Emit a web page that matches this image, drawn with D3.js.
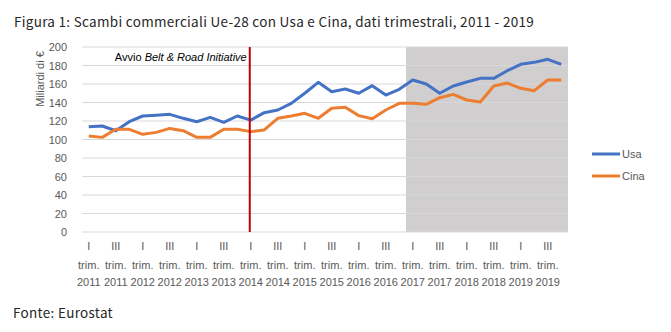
<!DOCTYPE html>
<html><head><meta charset="utf-8">
<script src="https://cdn.jsdelivr.net/npm/d3@7"></script>
<style>body{margin:0;background:#fff}svg{display:block}</style>
</head><body>
<svg id="c" width="671" height="332"></svg>
<script>
const quarters = ["I","II","III","IV"];
const years = [2011,2012,2013,2014,2015,2016,2017,2018,2019];
const categories = [];
years.forEach(y => quarters.forEach(q => categories.push(q + " trim. " + y)));
const usa = [113.8,114.6,109.5,119.2,125.4,126.2,127.2,122.9,119.2,124,118.6,125.4,
             121,129,131.9,139,150,161.8,151.7,154.6,150,158.2,148,154.3,
             164.3,160,150,157.8,162.2,166.1,166.1,174.4,181.3,183.4,186.7,181.3];
const cina = [103.8,102.3,111,111,105.6,107.7,112,109.5,102.3,102.3,111,111,
              108.5,110.3,122.9,125.4,128.3,122.9,133.7,134.8,125.8,122.5,131.9,139.1,
              139.1,138,145.2,148.8,142.7,140.5,157.8,161,155.3,152.8,164.3,164.3];
const yTicks = [0,20,40,60,80,100,120,140,160,180,200];
const seriesNames = ["Usa","Cina"];
const colors = ["#4472C4","#ED7D31"];
const eventCategory = "I trim. 2014";
const shadeFrom = "I trim. 2017";

(function(){
const svg = d3.select("#c");
const pL = 82, pR = 568, pT = 47, pB = 232;
const x = d3.scaleBand().domain(categories).range([pL, pR]);
const y = d3.scaleLinear().domain([0, 200]).range([pB, pT]);
const axisFont = "'Liberation Sans', Arial, sans-serif";
const txtCol = "#595959";

svg.append("rect").attr("x", x(shadeFrom)).attr("y", pT)
  .attr("width", pR - x(shadeFrom)).attr("height", pB - pT).attr("fill", "#D0CECE");

svg.append("g").selectAll("line").data(yTicks).join("line")
  .attr("x1", pL).attr("x2", pR).attr("y1", d => y(d)).attr("y2", d => y(d))
  .attr("stroke", "#D9D9D9").attr("stroke-width", 1);

svg.append("g").selectAll("text").data(yTicks).join("text")
  .attr("x", 67).attr("y", d => y(d) + 4).attr("text-anchor", "end")
  .attr("font-family", axisFont).attr("font-size", 11).attr("fill", txtCol).text(d => d);

svg.append("text").attr("transform", "translate(44,79) rotate(-90)")
  .attr("text-anchor", "middle").attr("font-family", axisFont).attr("font-size", 11)
  .attr("fill", txtCol).text("Miliardi di €");

const xl = svg.append("g").selectAll("g").data(categories.filter((d, i) => i % 2 === 0)).join("g")
  .attr("transform", d => `translate(${x(d) + x.bandwidth() / 2},0)`);
xl.each(function(d) {
  const parts = d.split(" ");
  const g = d3.select(this);
  [[parts[0], 250], [parts[1], 269], [parts[2], 286]].forEach(([t, yy]) => {
    g.append("text").attr("y", yy).attr("text-anchor", "middle")
      .attr("font-family", axisFont).attr("font-size", 11).attr("fill", txtCol).text(t);
  });
});

const line = d3.line().x((d, i) => x(categories[i]) + x.bandwidth() / 2).y(d => y(d));
[usa, cina].forEach((s, k) => {
  svg.append("path").datum(s).attr("d", line).attr("fill", "none")
    .attr("stroke", colors[k]).attr("stroke-width", 3).attr("stroke-linejoin", "round");
});

const ex = x(eventCategory) + x.bandwidth() / 2 - 1;
svg.append("line").attr("x1", ex).attr("x2", ex).attr("y1", pT).attr("y2", pB)
  .attr("stroke", "#C00000").attr("stroke-width", 2);
const ev = svg.append("text").attr("x", ex - 3).attr("y", 61).attr("text-anchor", "end")
  .attr("font-family", axisFont).attr("font-size", 11).attr("fill", "#000");
ev.append("tspan").text("Avvio ");
ev.append("tspan").attr("font-style", "italic").text("Belt & Road Initiative");

seriesNames.forEach((n, k) => {
  const ly = 154 + k * 22;
  svg.append("line").attr("x1", 592).attr("x2", 620).attr("y1", ly).attr("y2", ly)
    .attr("stroke", colors[k]).attr("stroke-width", 3);
  svg.append("text").attr("x", 622).attr("y", ly + 4).attr("font-family", axisFont)
    .attr("font-size", 11).attr("fill", txtCol).text(n);
});

const tf = "'Noto Sans CJK JP', 'Noto Sans', sans-serif";
svg.append("text").attr("x", 14).attr("y", 27).attr("font-family", tf).attr("font-size", 13.5)
  .attr("fill", "#262626").attr("letter-spacing", 0.3)
  .text("Figura 1: Scambi commerciali Ue-28 con Usa e Cina, dati trimestrali, 2011 - 2019");
svg.append("text").attr("x", 13).attr("y", 318).attr("font-family", tf).attr("font-size", 13.5)
  .attr("fill", "#262626").attr("letter-spacing", 0.3).text("Fonte: Eurostat");
})();
</script>
</body></html>
